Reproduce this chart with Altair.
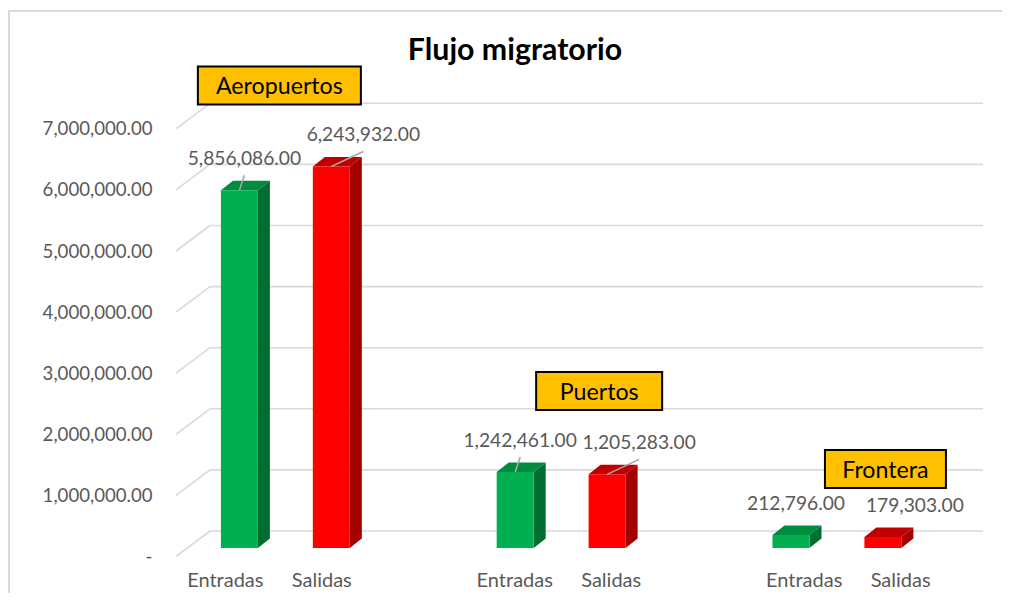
import altair as alt
import pandas as pd

# ---------------- data ----------------
TITLE = "Flujo migratorio"
GROUPS = ["Aeropuertos", "Puertos", "Frontera"]
SERIES = ["Entradas", "Salidas"]
ENTRADAS = [5856086, 1242461, 212796]
SALIDAS = [6243932, 1205283, 179303]
Y_TICKS = [0, 1000000, 2000000, 3000000, 4000000, 5000000, 6000000, 7000000]

# ---------------- layout / style ----------------
W, H = 842, 585
PAD_LEFT = 152
X_DOMAIN = [0, 7]
X_RANGE = [79.4, 722.9]
Y_DOMAIN = [0, 7000000]
Y_RANGE = [540, 112.3]
KX = (X_RANGE[1] - X_RANGE[0]) / (X_DOMAIN[1] - X_DOMAIN[0])
KY = (Y_RANGE[0] - Y_RANGE[1]) / (Y_DOMAIN[1] - Y_DOMAIN[0])


def ux(px):
    return px / KX


def uy(px):
    return px / KY


GROUP_STEP = 3
BAR_W = 37
DEPTH_X, DEPTH_Y = 12, 9.5
BACK_PX = 17          # back wall is above/behind the bar front
FRONT_PX = 8.5        # front floor edge is below the bar front
GRID_X0, GRID_X1, DIAG_X0 = 50, 823, 16
PERSP_K, PERSP_VP = 4.55 / KX, 3.1
LABEL_NUDGE = {"Entradas": 5, "Salidas": 32}
LABEL_UP = 31
LEADER_UP = 15
LEADER_MIN = 1000000
BOX_STYLE = {  # dx, up (px), width (px)
    "Aeropuertos": (-6, 81, 163),
    "Puertos": (38, 81, 126),
    "Frontera": (48.5, 66, 121),
}
BOX_H = 38

FONT = "Lato"
GRAY = "#595959"
FRONT_COLORS = ["#00B050", "#FF0000"]
TOP_COLORS = ["#008C3F", "#C00000"]
SIDE_COLORS = ["#006E2F", "#A30000"]

rows = []
for gi, g in enumerate(GROUPS):
    for si, (s, vals) in enumerate(zip(SERIES, [ENTRADAS, SALIDAS])):
        rows.append({"group": g, "gi": gi, "series": s, "si": si, "value": vals[gi]})
bars = pd.DataFrame(rows)
ticks = pd.DataFrame({"v": Y_TICKS})


def case(field, mapping, idx=None):
    expr = "0"
    for k, v in mapping.items():
        val = v if idx is None else v[idx]
        expr = f"(datum.{field} == '{k}' ? {val} : {expr})"
    return expr


XS = alt.Scale(domain=X_DOMAIN, range=X_RANGE, nice=False, zero=False)
YS = alt.Scale(domain=Y_DOMAIN, range=Y_RANGE, nice=False, zero=False)
Y_AXIS = alt.Axis(
    values=Y_TICKS,
    labelExpr="datum.value == 0 ? '-' : format(datum.value, ',.2f')",
    domain=False, ticks=False, grid=False, title=None,
    labelOffset=FRONT_PX, labelPadding=8,
    labelColor=GRAY, labelFont=FONT, labelFontSize=18.6,
)


def X(f):
    return alt.X(f, scale=XS, axis=None)


def Y(f, **kw):
    return alt.Y(f, scale=YS, axis=Y_AXIS, **kw)


def color(rng):
    return alt.Color("series:N", scale=alt.Scale(domain=SERIES, range=rng), legend=None)


half = ux(BAR_W / 2)
base = alt.Chart(bars).transform_calculate(
    slot=f"{GROUP_STEP}*datum.gi + datum.si"
).transform_calculate(
    xl=f"datum.slot - {half}", xr=f"datum.slot + {half}", zero="0"
)

# back-wall gridlines and floor diagonals
grid = alt.Chart(ticks).transform_calculate(
    gy=f"datum.v + {uy(BACK_PX)}", fy=f"datum.v - {uy(FRONT_PX)}"
)
gridlines = grid.mark_rule(color="#D9D9D9", strokeWidth=1.6).encode(
    x=alt.value(GRID_X0), x2=alt.value(GRID_X1), y=Y("gy:Q")
)
diagonals = grid.mark_rule(color="#D9D9D9", strokeWidth=1.6).encode(
    x=alt.value(DIAG_X0), x2=alt.value(GRID_X0), y=Y("fy:Q"), y2="gy:Q"
)

# 3D bars
side = base.transform_calculate(k="[0,1]").transform_flatten(["k"]).transform_calculate(
    sx=f"datum.xr + datum.k*{ux(DEPTH_X)}",
    sy1=f"datum.value + datum.k*{uy(DEPTH_Y)}",
    sy2=f"datum.k*{uy(DEPTH_Y)}",
).mark_area(orient="vertical").encode(
    x=X("sx:Q"), y=Y("sy1:Q", stack=None), y2="sy2:Q", detail="slot:N", color=color(SIDE_COLORS)
)
top = base.transform_calculate(k="[0,1]").transform_flatten(["k"]).transform_calculate(
    tx=f"datum.xl + datum.k*{ux(DEPTH_X)}",
    tx2=f"datum.xr + datum.k*{ux(DEPTH_X)}",
    ty=f"datum.value + datum.k*{uy(DEPTH_Y)}",
).mark_area(orient="horizontal").encode(
    y=Y("ty:Q"), x=alt.X("tx:Q", scale=XS, axis=None, stack=None), x2="tx2:Q",
    detail="slot:N", color=color(TOP_COLORS)
)
front = base.mark_rect().encode(
    x=X("xl:Q"), x2="xr:Q", y=Y("value:Q"), y2="zero:Q", color=color(FRONT_COLORS)
)

# value labels with leader lines
lab = base.transform_calculate(lx=f"datum.slot + {case('series', LABEL_NUDGE)}/{KX}")
leaders = lab.transform_filter(f"datum.value >= {LEADER_MIN}").transform_calculate(
    ly=f"datum.value + {uy(LEADER_UP)}"
).mark_rule(color="#A6A6A6", strokeWidth=1.6).encode(
    x=X("lx:Q"), x2="slot:Q", y=Y("ly:Q"), y2="value:Q"
)
values = lab.mark_text(font=FONT, fontSize=19.2, color=GRAY, dy=-LABEL_UP, baseline="middle").encode(
    x=X("lx:Q"), y=Y("value:Q"), text=alt.Text("value:Q", format=",.2f")
)

# category labels on the floor front edge
xlabels = base.transform_calculate(
    fx=f"datum.slot + (datum.slot - {PERSP_VP})*{PERSP_K}"
).mark_text(font=FONT, fontSize=20, color=GRAY, dy=33, baseline="middle").encode(
    x=X("fx:Q"), y=Y("zero:Q"), text="series:N"
)

# group label boxes
grp = base.transform_aggregate(top="max(value)", groupby=["group", "gi"]).transform_calculate(
    cx=f"{GROUP_STEP}*datum.gi + 0.5 + {case('group', BOX_STYLE, 0)}/{KX}",
    cy=f"datum.top + {case('group', BOX_STYLE, 1)}/{KY}",
    bw=f"{case('group', BOX_STYLE, 2)}/2/{KX}",
).transform_calculate(
    bx1="datum.cx - datum.bw", bx2="datum.cx + datum.bw",
    by1=f"datum.cy + {uy(BOX_H / 2)}", by2=f"datum.cy - {uy(BOX_H / 2)}",
)
boxes = grp.mark_rect(fill="#FFC000", stroke="#000000", strokeWidth=2).encode(
    x=X("bx1:Q"), x2="bx2:Q", y=Y("by1:Q"), y2="by2:Q"
)
boxtext = grp.mark_text(font=FONT, fontSize=23.2, color="#000000", baseline="middle", dy=2).encode(
    x=X("cx:Q"), y=Y("cy:Q"), text="group:N"
)

# title and outer chart-area frame (its right and bottom edges lie outside the picture)
title = alt.Chart(pd.DataFrame({"t": [TITLE]})).mark_text(
    font=FONT, fontSize=30.3, fontWeight="bold", color="#000000", baseline="middle", align="center"
).encode(x=alt.value(355), y=alt.value(43), text="t:N")
frame = alt.Chart(pd.DataFrame({"a": [0]})).mark_rect(
    fillOpacity=0, stroke="#D9D9D9", strokeWidth=2
).encode(
    x=alt.value(-151), x2=alt.value(W + 40), y=alt.value(3), y2=alt.value(H + 40)
)

chart = alt.layer(
    gridlines, diagonals, side, top, front, leaders, values, xlabels, boxes, boxtext,
    title, frame,
).resolve_scale(color="independent").properties(
    width=W, height=H,
    autosize=alt.AutoSizeParams(type="none"),
    padding={"left": PAD_LEFT, "top": 0, "right": 0, "bottom": 0},
).configure_view(stroke=None)

chart.save("out.html", embed_options={"renderer": "svg", "actions": False})
